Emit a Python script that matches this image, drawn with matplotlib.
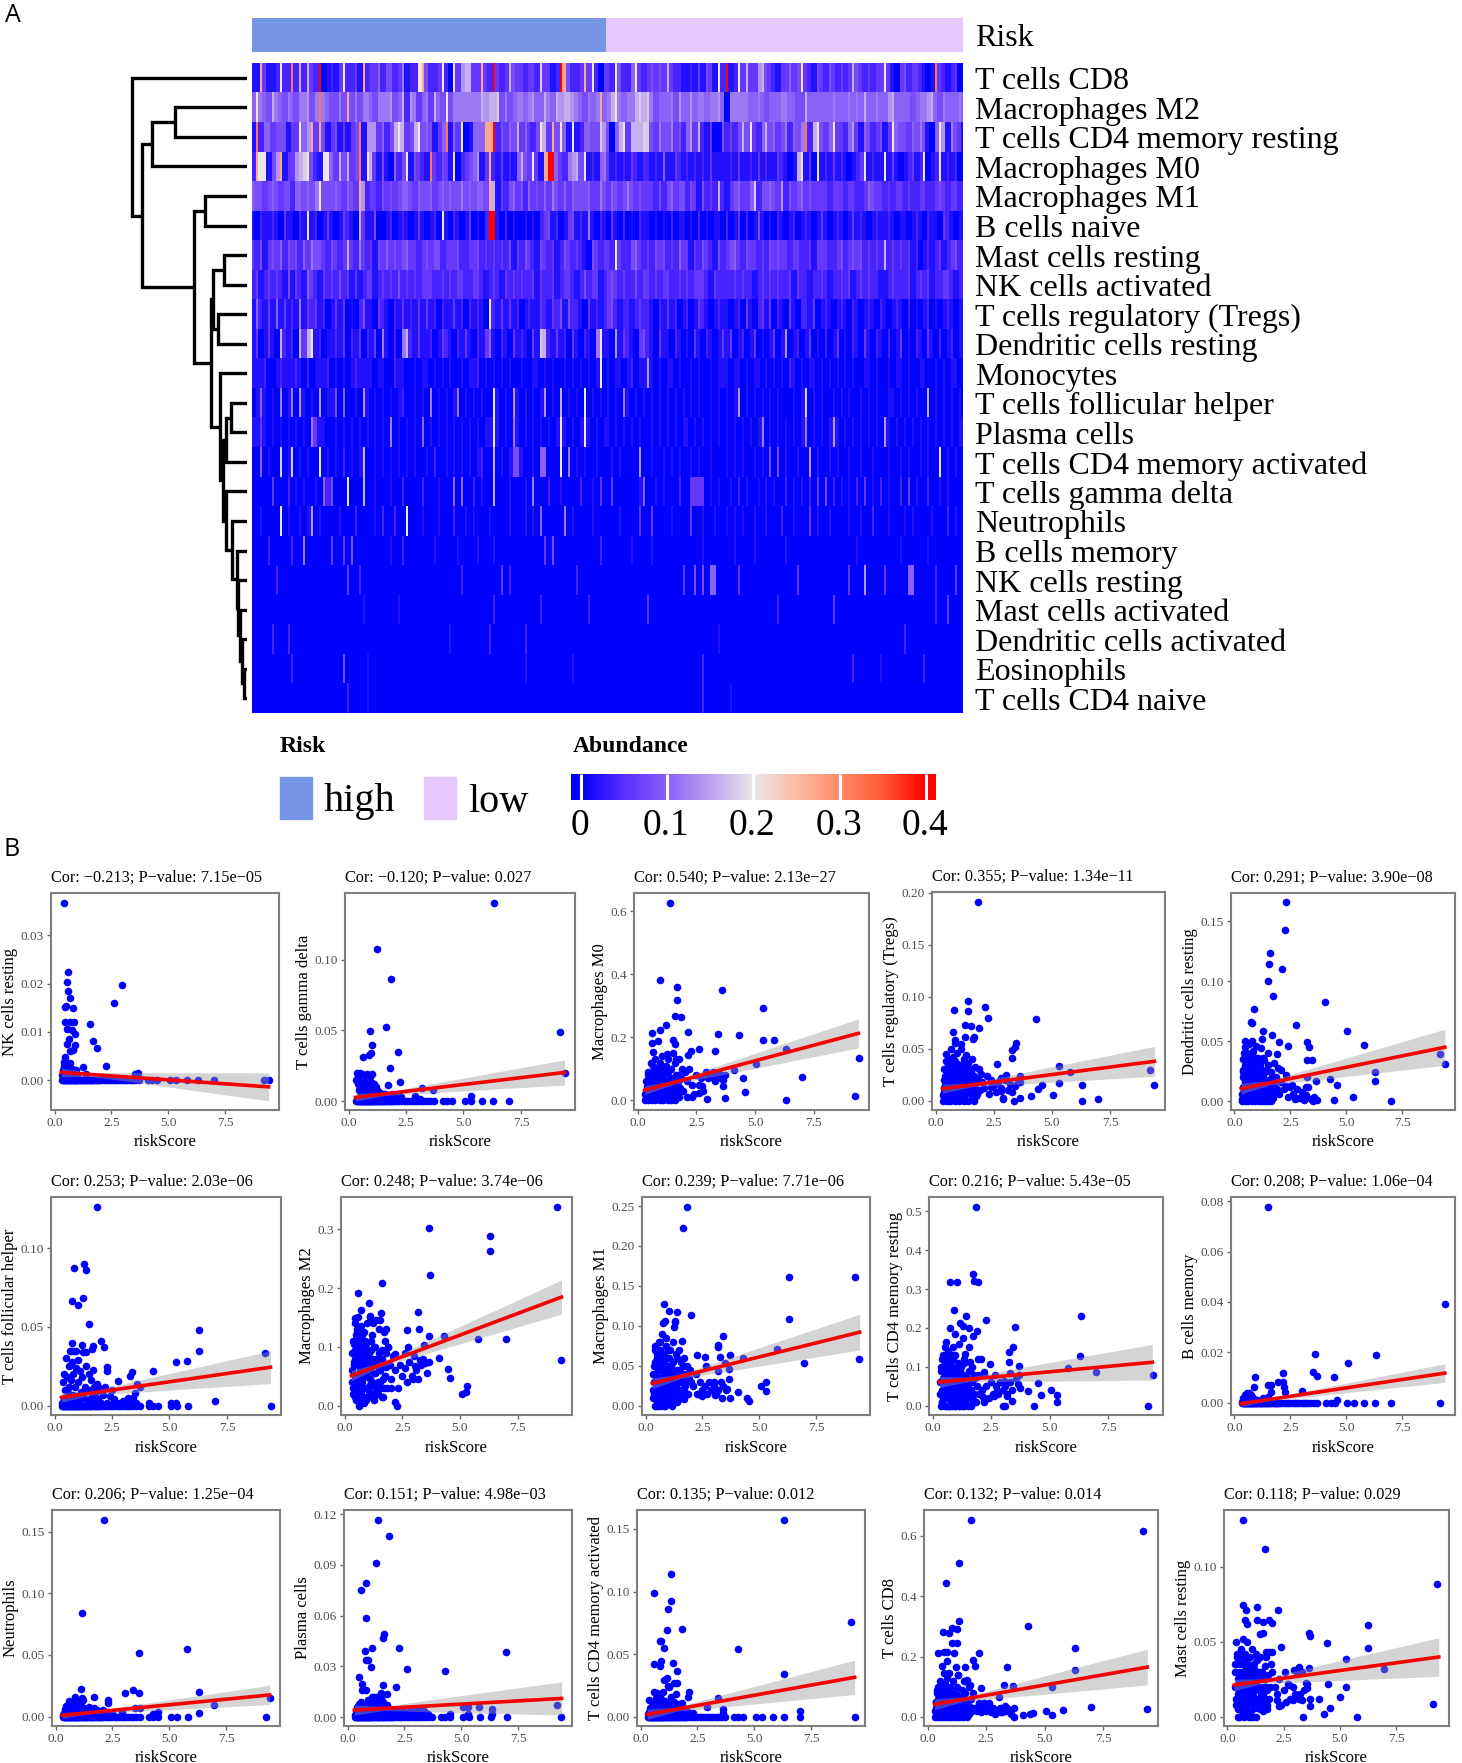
import numpy as np
import matplotlib
matplotlib.use('Agg')
import matplotlib.pyplot as plt
from matplotlib.colors import LinearSegmentedColormap
from matplotlib.patches import Rectangle

plt.rcParams['font.family'] = ['Liberation Serif', 'DejaVu Serif']

W, H = 1462, 1763

# ---- panel A data: abundance per sample, one char per column
# 0-9 = 0.02 steps, w = 0.2, a = 0.27, o = 0.32, r = 0.4
cells = ['T cells CD8', 'Macrophages M2', 'T cells CD4 memory resting', 'Macrophages M0', 'Macrophages M1',
         'B cells naive', 'Mast cells resting', 'NK cells activated', 'T cells regulatory (Tregs)',
         'Dendritic cells resting', 'Monocytes', 'T cells follicular helper', 'Plasma cells',
         'T cells CD4 memory activated', 'T cells gamma delta', 'Neutrophils', 'B cells memory',
         'NK cells resting', 'Mast cells activated', 'Dendritic cells activated', 'Eosinophils', 'T cells CD4 naive']
heat_rows = [
    '11a3112w22 o282832r01 213w2231a2 3352442361 22wa4223w2 0w378833a3 2r32384332 33293312ra 4223a3w203 32w4225w32 3434383221 12131431w2 r12w383378 432133534w 3214324323 2384323233 w310342332 101o321230',
    '5w65486546 5466746o65 4464a46466 5466674582 763563854w 4666666687 8894645665 6755865878 87654656a5 68w6566898 9645556475 5756656675 0666665565 4555665544 8555555655 5656585565 5785555456 6785465556',
    '1o25534441 33w57a3a41 3413134o17 7735248w83 48w454135o 153w01555a ar24354835 324w83a4w5 1w12554497 4058w38889 9436446342 5738213004 232484w325 8453462546 o28w435w33 2573154234 13w5443546 4105w71643',
    '2aww147a13 3789w421ww 5384834o1w 831410524w 14321o3243 1w02345713 a213121584 3w31arr532 6784w12156 3121213212 2121511321 2121213111 1213112131 211321018w 130w121312 10123w1211 w131012312 w012w12120',
    '5443454344 2554546w44 4543543a72 3324343455 4354453454 5446454554 a813245342 5343536435 3544453364 3543464343 3324245344 2431423282 1345335924 4543724345 3433332333 2332235433 2323323223 3223432332',
    '1021121031 1021w12013 1013210831 1400120121 01310120w1 0210130102 rr10201001 0102341201 3412161021 0310201021 1010102011 0102010110 2013020141 0102101201 2101310121 0131210121 1210110121 0211032101',
    '3241343524 3425364432 4323832632 3143534345 3323434423 3342233423 2323241324 3214323124 3232104323 32w3224532 3243423253 3132432142 3453243323 2434332332 2313332234 2343423232 8232323120 1212312342',
    '2312323214 1321532132 3242313123 3123232423 2323332232 3233223321 2321323232 2313223123 3212423312 3432322423 3232332232 3233321322 2232322123 2323223132 2122321223 2312323221 1232223123 2312233212',
    '1521315131 2161323120 1313010241 1032102131 2131312021 1312021210 w213131201 2113213241 4221031212 3421221232 2102131201 2013210121 1012031023 1302103102 2130121012 1021012102 1012102010 1201012101',
    '1301310821 20838w1201 1213021302 1306102068 2131120132 1021310213 5102103121 0319821312 03102106w1 1071321034 2103110210 1031021013 1301201301 0130170120 1301020130 1021031021 0201301021 0310201201',
    '1112001211 1210201112 0101012111 1011002110 0101101010 1001011201 0101010010 0110101001 01010101w0 1011012011 7101011010 0101001011 1011010110 1010102101 0110101010 1010011010 0101101001 1001010110',
    '0151010601 6071010701 1405001071 0101010120 0101060101 0160101010 0w10107101 0101701080 1010w01010 1010610101 0101010101 0101001010 1017010101 0101000101 9010100101 0100101010 0110101010 0801010101',
    '1131010101 0101063110 0101010101 0101060101 0105010101 0101010101 1w10106101 01010101w1 0101w10101 1010101010 0101010101 1010101010 1010101016 0101010101 6010101710 1010101010 7101010101 0101010101',
    '0050100901 9010100w01 0102010180 0101010101 0100102001 0101010120 0801014410 01055000w0 6010100100 0101000070 0100101010 0101001000 1010100101 0404010010 0701001010 0100100100 0100101001 0100w01010',
    '0000030002 0101001052 4000w00080 0100010020 0002000100 0505002010 0800010001 0600020010 0002001030 0300000015 0010100020 0333301010 0102010010 1010020101 0203040201 0102030102 0100203010 0200101000',
    '0010000w01 0010170100 0010002000 010200200w 0001000100 0200101000 1000010001 0105000006 0100001000 0001000030 0300001000 0300100100 1010100100 1000200100 0301001000 0100100200 0100010100 0010002010',
    '0000200000 2006000000 3003040000 0000010020 0000001000 0010000100 0100000000 0000304000 0000000020 0000001000 0100000000 0000100000 0010000100 0000010000 0000000000 0001000000 0000100000 0100000000',
    '0000002000 0000000000 0000300200 0000000000 0000000000 0002000000 0003020000 0000000000 0020000000 0000000000 0000000003 0040405500 0003000000 0000000030 0000000000 0300070000 3000005500 0002000030',
    '0000000000 0000000000 0000000010 0000000100 0000000000 0000000000 0200000000 0002000000 0000020000 0000000000 3000000000 0000000000 0000000000 0002000000 0000000300 0000000000 0000000000 0002003000',
    '0000020002 0000000000 0000000000 0000000000 0000000000 1000000000 2000000002 0000000000 0000000000 0000000000 0000000000 0000000010 0000000000 0000000000 0000000000 0000000000 0000020000 0000000000',
    '0000000000 2000000000 0004000001 0000000000 0000000000 0000000000 0000000001 0000000000 0100000000 0000000000 0000000000 0000200000 0000000000 0000000000 0000000000 0020000001 0000000000 2000000000',
    '0000000000 0000000000 0000200001 0000000000 0000000000 0000000000 0000000000 0000000000 0000000000 0000000000 0000000000 0000200000 0100000000 0000000000 0000000000 0000000000 0000000000 0000000000',
]
char_values = {'w': 0.2, 'a': 0.27, 'o': 0.32, 'r': 0.4}
for d in '0123456789':
    char_values[d] = int(d) * 0.02

# dendrogram merges: left node, right node, distance (leaves are 0-21, merges count on from 22)
merges = [(1, 2, 72), (22, 3, 95), (4, 5, 42), (6, 7, 23), (8, 9, 29), (25, 26, 34), (11, 12, 16), (28, 13, 21),
          (20, 21, 3.5), (19, 30, 5), (18, 31, 7), (17, 32, 9), (16, 33, 10), (15, 34, 15), (14, 35, 21),
          (29, 36, 24), (10, 37, 27), (27, 38, 36), (24, 39, 53), (23, 40, 105), (0, 41, 115)]

# ---- panel B data
risk_low = [.32, .36, .4, .43, .46, .49, .52, .55, .58, .61, .64, .67, .7, .73, .76, .79, .82, .85, .88, .91, .94, .97,
            1.0, 1.04, 1.08, 1.12, 1.16, 1.2, 1.24, 1.28, 1.32, 1.36, 1.4, 1.45, 1.5, 1.55, 1.6, 1.65, 1.7, 1.75, 1.8,
            1.85, 1.9, 1.95, 2.0, 2.1, 2.2, 2.3, 2.4, 2.5, 2.6, 2.7, 2.8, 2.9, 3.0, 3.1, 3.2, 3.3, 3.4, 3.55]
risk_low3 = [.34, .38, .41, .45, .47, .5, .53, .56, .59, .62, .65, .68, .71, .74, .77, .8, .83, .86, .89, .92, .95, .98,
             1.02, 1.06, 1.1, 1.14, 1.18, 1.22, 1.26, 1.3, 1.34, 1.38, 1.43, 1.48, 1.53, 1.58, 1.63, 1.68, 1.73, 1.78]
tail_zero = [3.7, 4.1, 4.3, 4.5, 5.05, 5.35, 5.8]

nk_pts = [(.4, .0368), (.58, .0224), (.53, .0203), (.58, .0185), (.7, .0171), (.5, .0154), (.48, .0151), (.8, .0149),
          (2.96, .0198), (2.6, .016), (1.54, .0117), (1.7, .0082), (1.87, .0067), (2.26, .003), (1.27, .0027),
          (.45, .012), (.87, .012), (.7, .012), (.53, .0107), (.78, .0104), (.92, .0095), (.62, .0085), (.53, .0075),
          (.9, .0073), (.7, .0061), (.82, .0062), (.48, .0048), (.4, .0038), (.7, .0036), (.6, .0027), (.78, .0024),
          (1.37, .0012), (3.55, .0012), (3.66, .0015), (6.3, 0), (7.0, 0), (9.2, 0), (9.4, 0)]
nk_low = [.001, .002, .003, .001, .004, .002, .001, .003, .002, .001, .003, .001, .002, .001, .002, .001, .001, .002,
          .001, .001, .002, .001, .001]
gam_pts = [(6.32, .14), (1.25, .1073), (1.84, .0864), (9.2, .0486), (9.4, .0197), (1.62, .0526), (.94, .0498),
           (1.04, .0401), (2.17, .0347), (.99, .0338), (.87, .0326), (.65, .0315), (1.8, .0232), (2.26, .0138),
           (3.2, .0096), (3.68, .008), (1.7, .0115), (5.35, .0035), (2.9, .004), (3.1, .002), (6.3, 0), (7.0, 0)]
gam_low = [.015, .0198, .017, .012, .008, .0198, .005, .012, .0195, .009, .014, .004, .018, .008, .013, .005, .0195,
           .009, .012, .004, .017, .008, .013, .019, .004, .012, .007, .01, .003, .007, .004, .006, .003, .004, .005,
           .002, .005, .003, .004, .002, .004, .003, .005, .002, .003, .002, .005, .003]
tfh_pts = [(1.85, .1263), (1.27, .0896), (.84, .0873), (1.37, .0858), (1.25, .0682), (.74, .0667), (1.03, .0636),
           (1.5, .0519), (6.28, .0483), (2.0, .0413), (6.3, .035), (9.18, .0333), (.77, .04), (1.2, .0388),
           (1.68, .0381), (2.16, .0375), (.72, .035), (.95, .035), (1.37, .0339), (1.63, .036), (5.3, .0275),
           (5.78, .0286), (2.3, .0244), (4.27, .0222), (3.36, .0212), (3.3, .019), (2.76, .0159), (3.6, .014),
           (3.7, .0117), (7.0, .0032), (9.4, 0), (5.3, .002), (5.05, .002), (4.1, .002), (1.68, .0227), (2.3, .022),
           (3.2, .005), (3.5, .008), (2.6, .004)]
tfh_low = [.002, .015, .005, .02, .01, .03, .003, .018, .008, .025, .012, .035, .004, .016, .028, .007, .02, .035, .002,
           .012, .024, .006, .029, .015, .003, .022, .009, .018, .034, .005, .012, .025, .002, .01, .02, .004, .016,
           .006, .012, .002, .009, .014, .004, .011, .002, .007, .012, .002, .006, .01, .003, .001, .002, .001, .003,
           .002, .004, .001, .005, .002]
bm_pts = [(1.52, .0778), (9.43, .039), (3.58, .0192), (6.32, .019), (5.06, .016), (2.16, .0118), (3.51, .0122),
          (3.68, .0108), (4.47, .0104), (.91, .0104), (1.94, .0082), (2.16, .0082), (1.5, .0069), (1.65, .0069),
          (.88, .0062), (2.23, .0062), (3.04, .0049), (2.28, .0045), (1.65, .0042), (.67, .004), (.54, .004),
          (.76, .003), (4.59, .0012), (1.26, .002), (1.48, .0025), (6.3, 0), (7.0, 0), (9.2, 0)]
bm_low = [.0005, .001, .002, .001, .003, .002, .0035, .001, .002, .003, .001, .002, .0025, .001, .002, .001, .0015, .002,
          .001, .001, .0005, .001, .001]
neu_pts = [(2.13, .1595), (1.16, .084), (3.66, .0514), (5.79, .0549), (6.32, .02), (6.97, .0097), (9.42, .0149),
           (9.22, 0), (6.32, .0027), (1.14, .0227), (3.39, .022), (3.05, .0195), (3.66, .019), (2.32, .0135),
           (2.32, .011), (1.15, .0149), (1.2, .0135), (1.7, .0162), (.85, .0157), (.6, .013), (3.5, .007), (3.7, .007),
           (2.9, .004), (4.5, .004), (4.3, .002)]
neu_low = [.001, .003, .006, .002, .009, .005, .002, .007, .011, .003, .006, .012, .004, .009, .002, .012, .007, .005,
           .014, .003, .008, .011, .002, .006, .01, .004, .008, .003, .007, .005, .002, .006, .004, .008, .003, .006,
           .002, .004, .007, .003, .005, .002, .004, .002, .003, .005, .002, .004, .002, .003]
pla_pts = [(1.33, .1165), (1.82, .1072), (1.23, .0908), (.8, .0792), (.58, .0751), (.82, .0585), (1.62, .049),
           (1.57, .0465), (1.09, .041), (2.25, .041), (.75, .039), (6.97, .0384), (.82, .0337), (.9, .0337),
           (1.04, .0298), (2.62, .0286), (4.29, .027), (.51, .0236), (.65, .0193), (1.57, .0189), (2.13, .0175),
           (.62, .016), (.8, .016), (1.45, .014), (1.72, .0136), (1.2, .012), (1.09, .012), (9.2, .0073), (9.39, 0),
           (5.76, .0061), (5.28, .006), (5.05, .006), (5.28, .002), (6.34, .005), (6.34, .002), (6.3, 0), (7.0, 0),
           (4.5, .002), (3.3, .004)]
pla_low = [.001, .002, .004, .006, .002, .005, .008, .003, .006, .009, .002, .005, .007, .001, .004, .008, .006, .002,
           .005, .01, .003, .006, .009, .002, .005, .012, .007, .004, .009, .012, .006, .003, .008, .011, .005, .009,
           .003, .006, .004, .007, .003, .005, .002, .004, .002, .003, .002, .004, .002, .003, .002, .003, .004, .002,
           .003, .005, .002, .004, .003, .002]
c4a_pts = [(6.31, .157), (1.33, .1138), (.61, .0987), (1.33, .0925), (1.21, .0859), (1.17, .0694), (1.82, .07),
           (9.22, .076), (.85, .0609), (.9, .0609), (1.02, .0548), (4.27, .054), (.9, .045), (.61, .0423), (.85, .041),
           (1.43, .0428), (1.6, .0367), (6.31, .0343), (1.02, .0295), (1.17, .0308), (1.46, .0269), (1.26, .0242),
           (1.6, .027), (2.14, .0202), (.61, .02), (.73, .0189), (1.55, .018), (.85, .015), (.39, .0136), (3.4, .0149),
           (6.99, .005), (9.42, 0), (2.91, .0077), (3.64, .006), (3.6, .003), (2.1, .016), (1.8, .011), (6.3, 0),
           (7.0, 0)]
c4a_low = [.002, .004, .007, .001, .005, .009, .003, .006, .012, .002, .008, .015, .004, .01, .017, .006, .012, .002,
           .009, .014, .005, .01, .02, .003, .013, .006, .011, .025, .004, .009, .016, .002, .007, .012, .004, .009,
           .002, .006, .01, .003, .005, .002, .004, .003, .002, .004, .002, .003]

m0_pts = [(1.38, .626), (.97, .381), (1.66, .359), (1.68, .319), (3.58, .349), (5.32, .293), (1.6, .268), (1.85, .266),
          (1.19, .238), (.95, .222), (.62, .214), (2.14, .216), (3.42, .21), (4.3, .207), (5.32, .193), (5.8, .193),
          (1.5, .193), (.85, .187), (.62, .182), (1.6, .18), (2.6, .164), (2.26, .156), (3.3, .157), (6.34, .163),
          (.67, .153), (2.16, .145), (1.26, .148), (9.43, .135), (1.65, .13), (5.06, .117), (4.11, .096), (7.0, .075),
          (4.49, .072), (4.58, .026), (3.7, .007), (2.95, .003), (6.34, 0), (9.24, .015), (3.63, .045), (3.63, .065),
          (3.15, .075), (2.6, .024), (2.3, .01), (2.1, .01), (2.75, .045), (3.3, .08), (3.5, .085), (3.7, .08)]
m0_low = [.02, .06, .01, .04, .09, .02, .05, .12, .03, .07, .01, .11, .04, .02, .13, .06, .03, .1, .01, .05, .12, .08, .02,
          .14, .04, .09, .01, .11, .06, .13, .03, .07, .1, .02, .15, .05, .12, .01, .08, .13, .04, .07, .1, .03, .09, .06,
          .1, .05, .02, .08, .05, .07, .03, .09, .07, .08, .09, .06, .08, .07]
m0_low2 = [0, .03, .015, .05, 0, .025, .04, .01, .06, 0, .03, .05, .015, .07, 0, .035, .02, .06, .005, .04, 0, .03, .015,
           .05, 0, .025, .06, .01, .04, 0, .02, .05, 0, .03, .01, .04, 0, .02, .06, .01]
m0_low3 = [.01, .045, .02, .08, .035, .005, .065, .025, .05, .015, .09, .03, .06, .01, .085, .04, .02, .075, .05, .01, .1,
           .03, .065, .02, .08, .045, .01, .06, .03, .09, .02, .05, .07, .035, .015, .055, .08, .025, .045, .065]
treg_pts = [(1.82, .191), (1.38, .0954), (2.14, .09), (.78, .087), (1.38, .0864), (2.26, .079), (4.3, .0787),
            (1.26, .0723), (1.5, .072), (1.87, .0694), (.73, .0656), (1.26, .0614), (1.65, .0614), (.85, .058),
            (1.6, .059), (1.09, .054), (3.47, .055), (3.4, .052), (3.28, .049), (2.62, .035), (3.28, .041), (5.3, .033),
            (5.78, .0275), (9.22, .029), (9.39, .015), (6.3, .0154), (5.3, .0166), (4.56, .015), (4.42, .011),
            (5.05, .0058), (6.3, 0), (6.97, .0016), (4.08, .0045), (3.64, .003), (3.35, 0), (2.9, .0016), (3.03, .0246),
            (3.64, .0237), (3.64, .018), (2.8, .0214), (2.4, .013), (2.8, .009)]
treg_low = [.005, .02, .01, .03, .045, .015, .025, .04, .008, .035, .05, .012, .028, .042, .004, .022, .038, .055, .01,
            .03, .046, .018, .006, .034, .05, .012, .026, .04, .002, .03, .044, .016, .036, .008, .028, .04, .014, .024,
            .032, .004, .02, .03, .01, .026, .018, .012, .024, .006, .02, .015, .008, .018, .012, .003, .02, .01, .016,
            .008, .014, .018]
treg_low2 = [0, .012, .024, .006, .018, 0, .033, .01, .022, 0, .016, .028, .004, .02, .036, .008, 0, .014, .026, .002,
             .012, .022, 0, .01, .02, .032, .005, .015, 0, .024, .008, .018, 0, .012, .022, .003, .01, 0, .016, .006]
treg_low3 = [.008, .03, .015, .038, .003, .024, .012, .034, .006, .02, .04, .01, .027, .002, .032, .016, .023, .006, .036,
             .012, .028, .004, .018, .03, .008, .022, .035, .002, .014, .026, .007, .019, .03, .01, .024, .004, .016,
             .012, .02, .006]
dc_pts = [(2.3, .1656), (2.24, .1425), (1.58, .1236), (1.54, .1144), (2.12, .11), (1.49, .1), (1.7, .0875), (4.05, .0825),
          (.88, .0764), (.76, .0658), (.8, .065), (2.73, .0639), (1.29, .0583), (5.02, .0586), (1.68, .0556),
          (1.25, .052), (.49, .05), (.8, .05), (3.24, .0492), (2.0, .0492), (2.41, .046), (3.34, .045), (5.78, .047),
          (1.88, .039), (9.17, .0394), (9.39, .031), (3.24, .034), (3.46, .034), (6.29, .024), (6.29, .017),
          (4.27, .0186), (4.56, .0136), (3.66, .017), (3.24, .02), (2.56, .0139), (3.2, .012), (5.3, .004), (4.44, .001),
          (6.98, .0003), (3.7, .001), (3.1, .001), (2.75, .003), (3.5, .0005), (2.1, .026), (2.3, .013)]
dc_low = [.002, .02, .035, .01, .045, .025, .005, .04, .015, .03, .048, .008, .022, .038, .012, .028, .042, .004, .018,
          .032, .046, .01, .024, .036, .002, .016, .03, .044, .008, .02, .034, .006, .026, .012, .04, .018, .004, .024,
          .014, .032, .008, .02, .01, .028, .006, .016, .01, .022, .004, .012, .006, .002, .01, .003, .008, .002, .005,
          .012, .002, .004]
dc_low2 = [0, .012, .026, .004, .016, 0, .03, .008, .02, 0, .014, .024, .002, .01, .018, 0, .006, .022, .012, 0, .008,
           .016, .003, .01, 0, .02, .005, .012, 0, .008, .015, 0, .004, .01, 0, .006, .012, 0, .003, .008]
dc_low3 = [.006, .024, .04, .012, .03, .002, .018, .036, .008, .026, .014, .034, .004, .02, .03, .01, .038, .006, .016,
           .028, .002, .022, .012, .032, .006, .018, .026, .01, .036, .004, .014, .024, .008, .03, .002, .016, .01, .02,
           .006, .014]
m2_pts = [(9.19, .3386), (3.65, .3017), (6.3, .288), (6.3, .2625), (3.7, .2216), (1.6, .209), (.58, .191), (1.05, .175),
          (.7, .163), (3.19, .159), (1.58, .157), (1.1, .153), (.47, .149), (2.72, .1295), (3.23, .1307), (3.65, .119),
          (4.3, .119), (3.42, .103), (2.74, .0994), (5.77, .1136), (6.98, .1136), (4.07, .081), (9.37, .078),
          (3.25, .077), (3.65, .074), (3.49, .072), (3.07, .067), (4.47, .0625), (4.58, .047), (2.95, .045),
          (2.6, .064), (5.3, .034), (5.28, .024), (5.07, .02), (2.2, .006), (2.26, 0), (2.0, .03), (2.2, .088),
          (1.86, .0994), (1.8, .13), (1.25, .14), (1.55, .145)]
m2_low = [.09, .03, .075, .14, .05, .12, .02, .085, .15, .04, .11, .065, .135, .01, .095, .05, .125, .03, .07, .105, .015,
          .14, .06, .09, .035, .15, .075, .12, .02, .1, .055, .145, .08, .03, .13, .06, .095, .015, .125, .05, .09, .03,
          .1, .07, .045, .085, .06, .03, .07, .05, .09, .04, .075, .05, .085, .06, .045, .07, .08, .055]
m2_low2 = [.06, .02, .105, .045, .08, .01, .13, .035, .07, 0, .09, .055, .025, .115, .04, .075, .005, .06, .1, .03, .05,
           .085, .015, .065, .045, .02, .095, .04, .07, .01, .055, .03, .08, .02, .06, .04, .015, .07, .03, .05]
m2_low3 = [.04, .11, .07, .015, .095, .05, .125, .03, .08, .005, .1, .06, .02, .12, .045, .085, .03, .065, .11, .01, .075,
           .05, .09, .025, .06, .11, .035, .08, .055, .1, .02, .07, .04, .09, .06, .03, .08, .045, .11, .065]
m1_pts = [(1.8, .249), (1.66, .223), (6.31, .1605), (9.2, .1605), (.82, .1267), (.75, .104), (.87, .106), (1.04, .119),
          (1.37, .117), (1.98, .113), (6.31, .1087), (1.3, .106), (1.3, .1045), (1.25, .098), (3.42, .087), (1.6, .0815),
          (3.2, .0765), (3.18, .073), (5.78, .0707), (3.69, .064), (2.27, .0635), (2.6, .0606), (3.25, .0606),
          (4.29, .06), (6.96, .054), (9.39, .059), (3.47, .054), (2.67, .05), (3.66, .046), (3.18, .044), (3.66, .0334),
          (3.59, .021), (4.05, .0176), (5.3, .029), (5.06, .024), (5.3, .018), (4.46, .0096), (4.55, .0054), (3.7, .01),
          (3.37, .0096), (3, .029), (3.06, .0134), (2.5, .0125), (2.27, .015), (2.87, .019)]
m1_low = [.02, .05, .01, .075, .035, .06, .005, .045, .08, .025, .07, .015, .055, .09, .03, .065, .01, .05, .085, .02,
          .04, .07, .005, .06, .03, .05, .015, .08, .04, .025, .065, .01, .045, .07, .03, .055, .02, .04, .06, .025, .05,
          .015, .035, .045, .03, .025, .04, .015, .03, .02, .025, .015, .03, .02, .025, .015, .02, .03, .025, .02]
m1_low2 = [.01, .03, .055, 0, .04, .02, .065, .01, .03, .05, 0, .035, .02, .06, .005, .04, .025, 0, .03, .045, .012, .025,
           .05, .008, .02, .035, 0, .015, .03, .01, .022, .04, .005, .018, .03, .01, .02, .035, .008, .015]
m1_low3 = [.04, .015, .07, .025, .05, 0, .035, .06, .02, .08, .01, .045, .03, .065, .015, .055, 0, .04, .075, .025, .05,
           .01, .035, .07, .02, .045, .03, .055, .005, .04, .02, .06, .03, .045, .01, .035, .05, .02, .04, .03]
c4r_pts = [(1.86, .512), (1.71, .339), (.73, .319), (1.06, .318), (1.76, .321), (1.92, .318), (.93, .245), (1.42, .231),
           (2.3, .221), (6.33, .23), (1.16, .212), (1.32, .204), (1.55, .199), (3.52, .202), (.75, .199), (1.88, .193),
           (.96, .185), (1.71, .18), (1.32, .175), (1.14, .159), (.57, .165), (3.43, .152), (1.57, .15), (3.28, .137),
           (6.31, .129), (1.37, .133), (1.96, .12), (2.05, .12), (1.6, .112), (2.45, .106), (3.28, .112), (3.69, .103),
           (5.81, .097), (7.01, .0876), (9.41, .078), (2.2, .086), (2.66, .079), (3.31, .083), (3.7, .08), (3.07, .064),
           (4.49, .0576), (3.67, .056), (3.72, .0455), (4.09, .0387), (5.06, .0412), (5.32, .028), (4.62, .028),
           (5.33, .0086), (4.32, 0), (9.23, 0), (3.0, 0), (3.1, 0), (3.39, .011), (3.2, .026), (2.63, .024), (2.74, .039),
           (2.2, .0086), (2.14, .023)]
c4r_low = [.03, .1, .01, .07, .13, .04, .09, .15, .02, .11, .06, .14, 0, .08, .12, .03, .1, .05, .15, .01, .09, .13, .04,
           .07, .11, 0, .06, .1, .03, .08, .05, .12, .01, .07, .04, .09, .02, .06, .1, .03, .07, .01, .05, .08, .03, .04,
           .08, .05, .02, .06, .03, .05, .03, .06, .04, .05, .03, .06, .04, .07]
c4r_low2 = [.06, 0, .12, .02, .09, .05, 0, .11, .03, .07, 0, .09, .04, 0, .06, .02, .13, 0, .07, .03, .05, 0, .1, .02, .06,
            0, .04, .08, 0, .02, .06, 0, .03, .05, 0, .02, .04, 0, .03, .01]
c4r_low3 = [.09, .04, .01, .12, .06, .02, .1, .08, 0, .05, .13, .03, .07, .11, .01, .085, .045, .02, .12, .06, 0, .08, .03,
            .1, .05, .015, .09, .04, .065, .01, .11, .03, .075, .05, .02, .09, .04, .06, .015, .08]
c8_pts = [(1.85, .651), (9.21, .615), (1.36, .51), (.79, .442), (4.31, .301), (1.36, .3175), (1.03, .295), (1.26, .29),
          (.67, .28), (.93, .279), (1.05, .244), (1.26, .244), (6.31, .229), (.44, .211), (.7, .216), (.85, .216),
          (1.11, .213), (2.18, .211), (1.92, .189), (2.02, .17), (1.59, .164), (3.41, .1665), (.85, .185), (6.31, .1566),
          (.6, .17), (1.2, .165), (.7, .145), (.9, .145), (1.3, .14), (1.55, .12), (1.69, .122), (1.8, .105), (3.25, .106),
          (3.66, .104), (5.33, .1), (2.28, .095), (3.07, .065), (6.97, .033), (9.39, .025), (5.8, .022), (5.07, .018),
          (5.33, .0066), (4.51, .013), (4.4, .011), (4.08, .0077), (3.69, .03), (3.69, 0), (3.33, .037), (2.18, .045),
          (2.62, .045), (2.4, .045), (2.8, .02), (3.1, .015), (3.4, .02)]
c8_low = [.02, .05, .08, .01, .1, .03, .06, .12, .005, .04, .09, .02, .07, .11, .01, .05, .03, .13, .06, .015, .08, .1, .03,
          .05, .12, .02, .07, .01, .1, .04, .14, .02, .06, .09, .03, .05, .12, .02, .04, .1, .03, .06, .02, .08, .03, .02,
          .04, .015, .03, .02, .04, .015, .03, .01, .02, .03, .015, .02, .03, .01]
c8_low2 = [0, .03, .015, .06, 0, .04, .02, .07, 0, .025, .01, .05, 0, .03, .015, .07, 0, .02, .04, 0, .015, .03, 0, .01,
           .025, 0, .02, .04, 0, .012, .025, 0, .01, .02, 0, .015, .005, .02, 0, .01]
c8_low3 = [.05, .01, .09, .03, .07, .015, .045, .1, .02, .06, .005, .08, .035, .055, .015, .09, .04, .025, .07, .01, .05,
           .03, .085, .015, .06, .04, .02, .075, .03, .05, .01, .065, .025, .04, .015, .08, .03, .05, .02, .035]
mast_pts = [(.67, .131), (1.65, .112), (9.34, .0885), (.7, .0745), (.84, .0712), (1.3, .073), (2.23, .0712), (.76, .0645),
            (.85, .062), (1.3, .0645), (1.85, .0645), (1.97, .0627), (1.59, .063), (3.63, .0561), (3.66, .054),
            (6.27, .061), (4.43, .049), (2.39, .0466), (6.27, .0461), (5.28, .0388), (6.95, .032), (3.64, .0324),
            (3.2, .0335), (2.98, .0313), (2.56, .03), (5.26, .02), (4.45, .022), (3.5, .0224), (3.54, .019), (5.02, .013),
            (4.05, .0117), (3.66, .0117), (3.24, .0153), (2.9, .0113), (3.32, .0113), (4.55, .0062), (4.28, .0018),
            (9.14, .0084), (3.37, 0), (5.75, 0), (3.66, .0073), (2.73, .021), (2.2, .011), (2.3, .0073), (2.0, .043),
            (1.6, .056), (1.45, .055), (1.7, .043), (1.85, .043)]
mast_low = [.035, .02, .05, .01, .04, .025, 0, .03, .045, .015, .035, .052, .005, .028, .042, .018, .033, .05, .01, .025,
            .04, 0, .03, .015, .045, .02, .035, .008, .028, .042, .012, .03, .02, .04, .01, .03, .015, .025, .04, .005,
            .028, .012, .02, .035, .03, .02, .015, .025, .008, .018, .01, .022, .012, .02, .015, .03, .012, .03, .018,
            .022]
mast_low2 = [.02, .008, .03, .042, .015, 0, .025, .012, .036, .02, .005, .03, .015, 0, .022, .038, .008, .02, .03, .004,
             .016, .026, .01, .034, 0, .014, .024, .006, .018, 0, .028, .01, .02, .005, .016, .025, .004, .012, .02, .008]
mast_low3 = [.03, .012, .04, .022, .005, .035, .016, .028, .044, .01, .02, .036, .002, .026, .014, .04, .018, .03, .008,
             .035, .022, .012, .04, .004, .028, .018, .032, .01, .024, .038, .006, .02, .03, .014, .026, .008, .02, .034,
             .012, .018]

fit_x = [0.3, 9.4]
band_x = [0.3, 1.6, 3.5, 6.0, 9.4]

# title, y label, points, low cluster(s), zero floor?, ylim, yticks, decimals, fit ends, band half widths, px box
panels = [
    ('Cor: −0.213; P−value: 7.15e−05', 'NK cells resting', nk_pts, [nk_low], True, (-.0062, .0388), [0, .01, .02, .03], 2, (.0016, -.0014), [.0009, .0004, .001, .0018, .0029], (51, 279, 893, 1110)),
    ('Cor: −0.120; P−value: 0.027', 'T cells gamma delta', gam_pts, [gam_low], True, (-.0061, .147), [0, .05, .10], 2, (.0028, .0204), [.0027, .0011, .0031, .0055, .0089], (345, 575, 893, 1110)),
    ('Cor: 0.540; P−value: 2.13e−27', 'Macrophages M0', m0_pts, [m0_low, m0_low2, m0_low3], False, (-.0305, .658), [0, .2, .4, .6], 1, (.0326, .2126), [.014, .006, .016, .029, .046], (634, 869, 893, 1110)),
    ('Cor: 0.355; P−value: 1.34e−11', 'T cells regulatory (Tregs)', treg_pts, [treg_low, treg_low2, treg_low3], False, (-.009, .2006), [0, .05, .10, .15, .20], 2, (.0115, .0378), [.0043, .0017, .005, .009, .0144], (932, 1165, 892, 1110)),
    ('Cor: 0.291; P−value: 3.90e−08', 'Dendritic cells resting', dc_pts, [dc_low, dc_low2, dc_low3], False, (-.0072, .1733), [0, .05, .10, .15], 2, (.0106, .045), [.0045, .0018, .0052, .0093, .015], (1231, 1455, 893, 1110)),
    ('Cor: 0.253; P−value: 2.03e−06', 'T cells follicular helper', tfh_pts, [tfh_low], True, (-.0059, .1324), [0, .05, .10], 2, (.0053, .0244), [.0031, .0012, .0036, .0064, .0104], (51, 281, 1197, 1415)),
    ('Cor: 0.248; P−value: 3.74e−06', 'Macrophages M2', m2_pts, [m2_low, m2_low2, m2_low3], False, (-.0159, .355), [0, .1, .2, .3], 1, (.051, .1847), [.0087, .0035, .01, .018, .029], (341, 572, 1197, 1415)),
    ('Cor: 0.239; P−value: 7.71e−06', 'Macrophages M1', m1_pts, [m1_low, m1_low2, m1_low3], False, (-.0117, .2613), [0, .05, .10, .15, .20, .25], 2, (.028, .092), [.0067, .0027, .0078, .014, .0224], (642, 870, 1197, 1415)),
    ('Cor: 0.216; P−value: 5.43e−05', 'T cells CD4 memory resting', c4r_pts, [c4r_low, c4r_low2, c4r_low3], False, (-.024, .537), [0, .1, .2, .3, .4, .5], 1, (.061, .1117), [.014, .0055, .016, .029, .046], (929, 1163, 1197, 1415)),
    ('Cor: 0.208; P−value: 1.06e−04', 'B cells memory', bm_pts, [bm_low], True, (-.0048, .0816), [0, .02, .04, .06, .08], 2, (-.0003, .0118), [.0011, .0004, .0013, .0023, .0037], (1231, 1455, 1197, 1415)),
    ('Cor: 0.206; P−value: 1.25e−04', 'Neutrophils', neu_pts, [neu_low], True, (-.0076, .1676), [0, .05, .10, .15], 2, (.0011, .0176), [.0023, .0009, .0027, .0048, .0078], (52, 280, 1510, 1726)),
    ('Cor: 0.151; P−value: 4.98e−03', 'Plasma cells', pla_pts, [pla_low], True, (-.0053, .1224), [0, .03, .06, .09, .12], 2, (.0041, .011), [.003, .0012, .0034, .0061, .0098], (344, 572, 1510, 1726)),
    ('Cor: 0.135; P−value: 0.012', 'T cells CD4 memory activated', c4a_pts, [c4a_low], True, (-.0072, .165), [0, .05, .10, .15], 2, (.0021, .0316), [.0041, .0016, .0048, .0085, .0137], (637, 865, 1510, 1726)),
    ('Cor: 0.132; P−value: 0.014', 'T cells CD8', c8_pts, [c8_low, c8_low2, c8_low3], False, (-.03, .685), [0, .2, .4, .6], 1, (.042, .165), [.018, .007, .02, .037, .059], (924, 1158, 1510, 1726)),
    ('Cor: 0.118; P−value: 0.029', 'Mast cells resting', mast_pts, [mast_low, mast_low2, mast_low3], False, (-.006, .1377), [0, .05, .10], 2, (.0213, .0399), [.0038, .0015, .0045, .008, .0128], (1224, 1449, 1510, 1726)),
]

risk_levels = ['high', 'low']
risk_colors = ['#7696E8', '#E6C8FF']
abundance_ticks = [0, 0.1, 0.2, 0.3, 0.4]

fig = plt.figure(figsize=(W / 100, H / 100), dpi=100)


def px_axes(left, right, top, bottom):
    return fig.add_axes([left / W, 1 - bottom / H, (right - left) / W, (bottom - top) / H])


def fig_text(x, y, s, **kw):
    fig.text(x / W, 1 - y / H, s, **kw)


cmap = LinearSegmentedColormap.from_list('abund', ['#0000FF', '#5B2FFF', '#8A62F8', '#BBA3F0', '#EDE8EA', '#FBBBA5',
                                                   '#FF8C68', '#FF5A35', '#FF0000'])

# top annotation bar
ax = px_axes(252, 963, 18, 52)
ax.barh(0, 0.996, left=0, height=1, color=risk_colors[0])
ax.barh(0, 1.004, left=0.996, height=1, color=risk_colors[1])
ax.set_xlim(0, 2)
ax.set_ylim(-0.5, 0.5)
ax.axis('off')
fig_text(975, 38, 'Risk', fontsize=23, va='center')

# heatmap, every column split in two so that a lone stripe is only half a column wide
matrix = np.array([[char_values[c] for c in row.replace(' ', '')] for row in heat_rows])
fine = np.repeat(matrix, 2, axis=1)
fine[:, 1::2] = np.minimum(matrix, np.roll(matrix, -1, axis=1))
ax = px_axes(252, 963, 63, 713)
ax.imshow(fine, cmap=cmap, vmin=0, vmax=0.4, aspect='auto', interpolation='nearest')
ax.axis('off')
for i, name in enumerate(cells):
    fig_text(975, 63 + (i + 0.5) * 650 / 22 + 4, name, fontsize=23, va='center')

# dendrogram
ax = px_axes(100, 247, 63, 713)
pos = {i: (i, 0.0) for i in range(len(cells))}
for k, (a, b, d) in enumerate(merges):
    ya, da = pos[a]
    yb, db = pos[b]
    ax.plot([da, d, d, db], [ya, ya, yb, yb], color='black', lw=2.4, solid_joinstyle='miter', solid_capstyle='butt')
    pos[len(cells) + k] = ((ya + yb) / 2, d)
ax.set_xlim(147, 0)
ax.set_ylim(len(cells) - 0.5, -0.5)
ax.axis('off')

# legends
fig_text(280, 747, 'Risk', fontsize=17, fontweight='bold', va='center')
fig_text(573, 747, 'Abundance', fontsize=17, fontweight='bold', va='center')
for left, lab, col in zip([280, 424], risk_levels, risk_colors):
    fig.patches.append(Rectangle((left / W, 1 - 819 / H), 32 / W, 42 / H, transform=fig.transFigure, color=col))
    fig_text(left + 44, 802, lab, fontsize=29, va='center')

ax = px_axes(571, 936, 774, 800)
ax.imshow(np.linspace(0, 0.4, 256).reshape(1, -1), cmap=cmap, vmin=0, vmax=0.4, aspect='auto',
          extent=[0, 0.4, 0, 1], interpolation='bilinear')
ax.set_xlim(-0.0116, 0.4118)
ax.set_ylim(0, 1)
ax.axvspan(-0.0116, 0, color='#0000FF', lw=0)
ax.axvspan(0.4, 0.4118, color='#FF0000', lw=0)
ax.vlines(abundance_ticks, 0, 1, color='white', lw=2.2)
ax.axis('off')
for t in abundance_ticks:
    fig_text(580 + t * 862, 826, str(t), fontsize=27, ha='center', va='center')

# panel letters
fig_text(5, 15, 'A', fontsize=18, family='Open Sans', va='center')
fig_text(4, 849, 'B', fontsize=18, family='Open Sans', va='center')

# scatter panels
for title, ylab, pts, lows, floor, ylim, yticks, dec, fit, hw, box in panels:
    left, right, top, bottom = box
    ax = px_axes(left, right, top, bottom)
    if floor:
        ax.scatter(risk_low + tail_zero, [0] * (len(risk_low) + len(tail_zero)), s=30, color='#0000FF', lw=0)
    for i, low in enumerate(lows):
        xs = risk_low3 if i == 2 else risk_low
        ax.scatter(xs[:len(low)], low, s=30, color='#0000FF', lw=0)
    ax.scatter([p[0] for p in pts], [p[1] for p in pts], s=30, color='#0000FF', lw=0)
    fit_at_band = np.interp(band_x, fit_x, fit)
    ax.fill_between(band_x, fit_at_band - np.array(hw), fit_at_band + np.array(hw), color='#999999', alpha=0.42, lw=0,
                    zorder=3)
    ax.plot(fit_x, fit, color='#F40000', lw=2.6, zorder=4)
    ax.set_xlim(-0.155, 9.855)
    ax.set_ylim(*ylim)
    ax.set_xticks([0, 2.5, 5, 7.5])
    ax.set_xticklabels(['0.0', '2.5', '5.0', '7.5'])
    ax.set_yticks(yticks)
    ax.set_yticklabels([f'{t:.{dec}f}' for t in yticks])
    ax.tick_params(labelsize=9.5, labelcolor='#4D4D4D', color='#666666', length=3, width=1, pad=2)
    for s in ax.spines.values():
        s.set_color('#7F7F7F')
        s.set_linewidth(1.5)
    ax.set_xlabel('riskScore', fontsize=12, labelpad=4)
    ax.set_ylabel(ylab, fontsize=12, labelpad=2)
    ax.set_title(title, loc='left', fontsize=11.7, pad=8)

fig.savefig('out.png', dpi=100)
